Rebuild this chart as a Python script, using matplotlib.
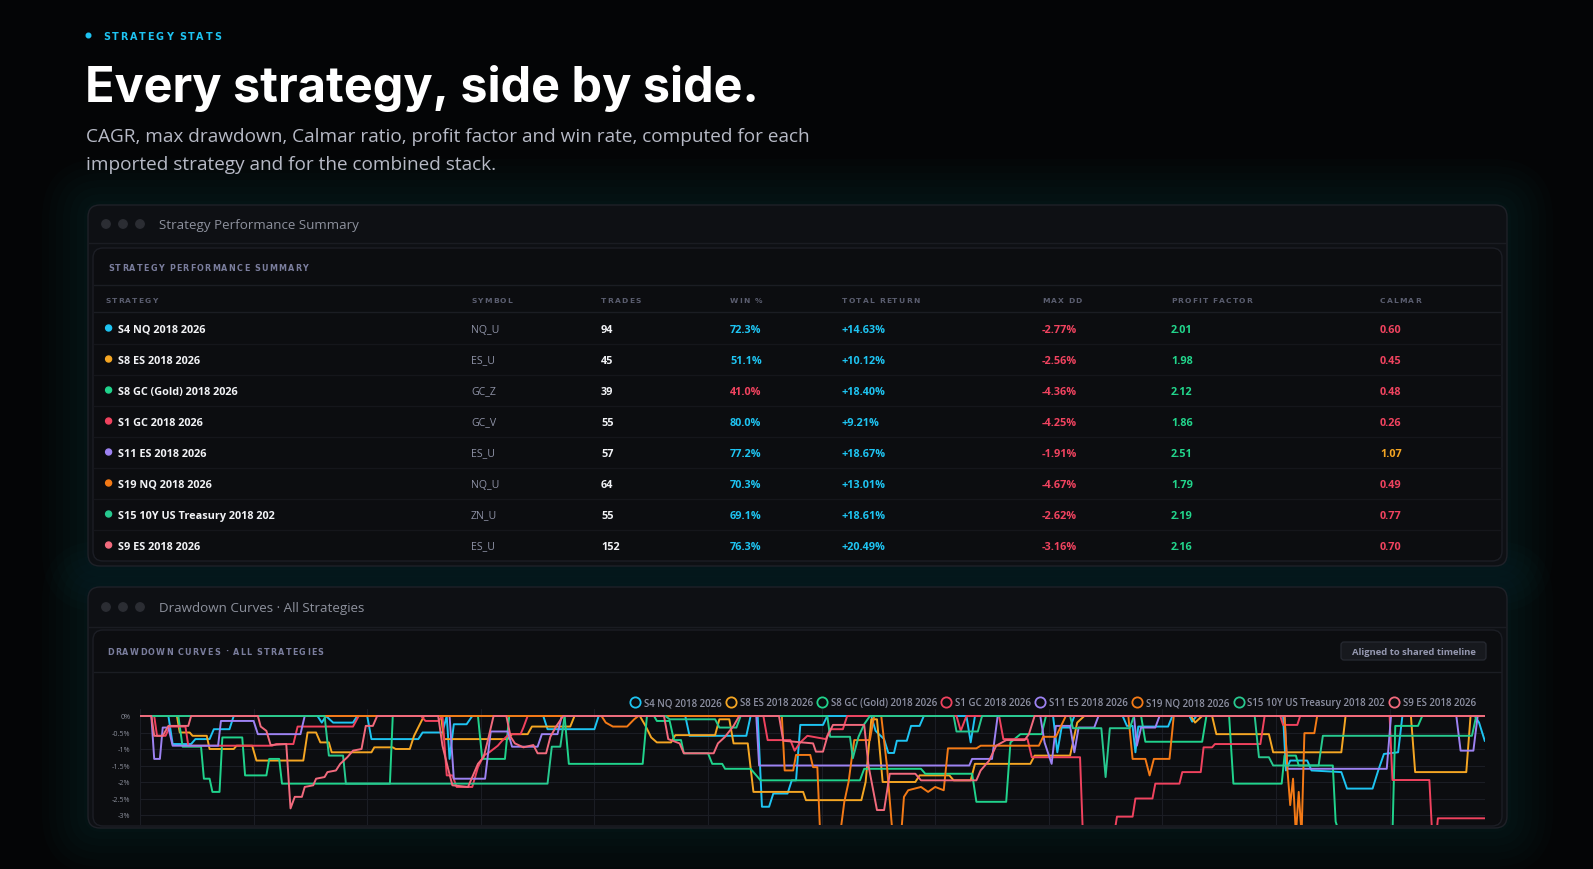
import matplotlib
matplotlib.use("Agg")
import matplotlib.pyplot as plt
from matplotlib.patches import FancyBboxPatch, Circle
from matplotlib.lines import Line2D
from matplotlib.ticker import FixedLocator, FuncFormatter

W, H = 1593, 870

# ---- table data ----
strategies = ["S4 NQ 2018 2026", "S8 ES 2018 2026", "S8 GC (Gold) 2018 2026", "S1 GC 2018 2026",
              "S11 ES 2018 2026", "S19 NQ 2018 2026", "S15 10Y US Treasury 2018 202", "S9 ES 2018 2026"]
symbols = ["NQ_U", "ES_U", "GC_Z", "GC_V", "ES_U", "NQ_U", "ZN_U", "ES_U"]
trades = [94, 45, 39, 55, 57, 64, 55, 152]
win_pct = [72.3, 51.1, 41.0, 80.0, 77.2, 70.3, 69.1, 76.3]
total_return = [14.63, 10.12, 18.40, 9.21, 18.67, 13.01, 18.61, 20.49]
max_dd = [-2.77, -2.56, -4.36, -4.25, -1.91, -4.67, -2.62, -3.16]
profit_factor = [2.01, 1.98, 2.12, 1.86, 2.51, 1.79, 2.19, 2.16]
calmar = [0.60, 0.45, 0.48, 0.26, 1.07, 0.49, 0.77, 0.70]
columns = ["STRATEGY", "SYMBOL", "TRADES", "WIN %", "TOTAL RETURN", "MAX DD", "PROFIT FACTOR", "CALMAR"]

# ---- drawdown curves: (months since Jan 2018, drawdown %) ----
dd_s4 = [(0, 0), (2.0, 0), (2.3, -0.85), (3.6, -0.85), (3.9, -0.7), (4.9, -0.7), (5.2, -0.4), (6.3, -0.4),
         (6.6, 0), (12.5, 0), (12.8, -0.2), (13.1, 0), (13.6, -0.2), (15.0, -0.2), (15.3, 0), (16.0, 0),
         (16.3, -0.7), (19.6, -0.7), (19.9, -0.5), (21.3, -0.5), (21.6, 0), (21.8, -1.3), (22.1, -0.25),
         (23.0, -0.25), (23.4, 0), (28.4, 0), (28.7, -0.4), (32.0, -0.4), (32.3, 0), (38.4, 0), (38.7, -0.6),
         (42.7, -0.6), (43.0, 0), (43.5, 0), (43.8, -2.75), (44.3, -2.75), (44.6, -2.35), (45.6, -2.35),
         (45.9, -1.95), (46.2, -1.95), (46.5, -0.27), (48.1, -0.27), (48.4, 0), (51.5, 0), (51.8, -0.45),
         (52.4, -0.7), (52.7, -1.12), (53.1, -1.12), (53.3, -0.75), (54.0, -0.75), (54.3, -0.3), (54.9, -0.3),
         (55.2, 0), (58.2, 0), (58.5, -0.8), (58.8, 0), (64.3, 0), (64.6, -1.1), (64.9, -0.35), (65.5, -0.35),
         (65.8, 0), (69.2, 0), (69.5, -0.3), (69.9, -0.3), (70.1, -1.1), (70.3, -0.32), (72.4, -0.32),
         (72.7, 0), (73.9, 0), (74.1, -0.17), (74.4, 0), (80.5, 0), (80.7, -1.65), (81.0, -1.35), (82.2, -1.35),
         (82.5, -1.65), (84.6, -1.7), (85.0, -2.2), (86.8, -2.2), (87.2, -1.65), (87.6, -1.15), (88.6, -1.1),
         (88.9, 0), (94.0, 0), (94.3, -0.2), (94.7, -0.75)]
dd_s8es = [(0, 0), (2.6, 0), (2.8, -0.5), (3.5, -0.5), (3.7, -0.6), (4.7, -0.6), (4.9, -1.0), (6.6, -1.0),
           (6.8, -0.9), (7.9, -0.9), (8.2, -1.35), (11.5, -1.35), (11.8, -0.5), (12.4, -0.5), (12.7, -0.8),
           (13.3, -0.8), (13.5, -1.1), (16.3, -1.1), (16.5, -0.95), (17.8, -0.95), (18.0, -1.0), (19.0, -1.0),
           (19.3, -0.6), (20.0, 0), (21.2, 0), (21.4, -0.7), (25.9, -0.7), (26.2, -0.55), (27.3, -0.55),
           (27.6, -0.32), (30.3, -0.32), (30.6, 0), (35.2, 0), (35.6, -0.3), (36.0, -0.65), (36.4, -0.8),
           (37.4, -0.8), (37.7, -0.58), (40.5, -0.58), (40.8, -0.1), (41.5, -0.1), (41.8, -0.83), (42.8, -0.83),
           (43.2, -2.3), (46.7, -2.3), (46.9, -2.55), (50.8, -2.55), (51.1, -2.0), (51.5, -0.1), (51.9, -0.1),
           (52.3, -2.0), (54.6, -2.0), (54.9, -1.8), (57.0, -1.8), (57.3, -1.95), (58.5, -1.95), (58.8, -1.45),
           (62.7, -1.45), (63.0, -1.2), (65.5, -1.2), (66.0, -0.2), (66.5, 0), (74.0, 0), (74.3, -0.2),
           (74.8, 0), (75.5, 0), (75.8, -0.55), (79.5, -0.55), (79.8, -1.1), (84.6, -1.1), (84.9, 0),
           (89.5, 0), (89.8, -1.7), (93.4, -1.7), (93.7, 0), (94.7, 0)]
dd_s8gc = [(0, 0), (2.7, 0), (3.0, -0.93), (4.3, -0.93), (4.5, -1.9), (4.9, -1.9), (5.1, -2.3), (5.6, -2.3),
           (5.8, -0.65), (7.2, -0.65), (7.4, -1.8), (8.9, -1.8), (9.1, -1.3), (9.8, -1.3), (10.0, -2.05),
           (17.6, -2.05), (17.8, 0), (23.8, 0), (24.1, -1.3), (25.7, -1.3), (26.0, 0), (29.9, 0), (30.2, -1.45),
           (35.4, -1.45), (35.7, 0), (36.2, 0), (36.4, -0.15), (37.3, -0.15), (37.6, -0.73), (38.1, -0.73),
           (38.3, -1.13), (40.0, -1.13), (40.3, -1.45), (41.0, -1.45), (41.2, -1.6), (43.0, -1.6), (43.7, -1.95),
           (50.7, -1.95), (51.0, -1.6), (55.0, -1.6), (55.3, -1.75), (58.6, -1.75), (58.9, -2.6), (61.0, -2.6),
           (61.3, -0.8), (62.0, -0.55), (63.5, -0.55), (63.8, 0), (70.5, 0), (70.8, -0.78), (74.8, -0.78),
           (75.1, 0), (76.7, 0), (77.0, -2.05), (80.4, -2.05), (80.6, -1.2), (81.4, -1.2), (81.6, -1.5),
           (84.0, -1.5), (84.2, -3.2), (84.5, -3.6), (88.2, -3.6), (88.4, -0.3), (90.0, -0.3), (90.3, 0),
           (94.7, 0)]
dd_s1 = [(0, 0), (1.0, 0), (1.2, -0.6), (1.8, -0.6), (2.1, -0.32), (3.2, -0.32), (3.4, -0.9), (9.3, -0.9),
         (9.6, -0.85), (10.8, -0.85), (11.1, -0.32), (15.0, -0.32), (15.4, 0), (19.8, 0), (20.1, -0.15),
         (21.0, -0.15), (21.3, 0), (21.6, -1.8), (22.0, -1.8), (22.3, -2.15), (23.4, -2.15), (23.8, -1.55),
         (24.2, -1.2), (24.6, -1.1), (25.2, -0.9), (25.5, -0.75), (26.0, -0.55), (26.8, -0.55), (27.0, -0.35),
         (27.3, 0), (43.9, 0), (44.2, -0.73), (45.8, -0.73), (46.1, -1.05), (46.5, -0.8), (47.0, -0.6),
         (48.3, -0.7), (48.6, -0.4), (49.5, -0.4), (49.8, 0), (57.5, 0), (57.8, -0.45), (58.2, 0), (60.5, 0),
         (60.8, -0.7), (62.5, -0.7), (62.8, -1.25), (66.2, -1.25), (66.4, -3.6), (68.6, -3.6), (68.8, -3.05),
         (69.9, -3.05), (70.1, -2.5), (71.3, -2.5), (71.5, -2.05), (73.2, -2.05), (73.4, -1.7), (74.7, -1.7),
         (74.9, -0.95), (75.5, -0.95), (75.7, -0.85), (78.9, -0.85), (79.2, 0), (80.3, 0), (80.5, -0.27),
         (81.5, -0.27), (81.7, 0), (88.0, 0), (88.2, -1.94), (90.8, -1.94), (91.0, -3.6), (91.3, -3.6),
         (91.4, -3.1), (94.7, -3.1)]
dd_s11 = [(0, 0), (0.8, 0), (1.0, -1.3), (1.4, -1.3), (1.6, -0.35), (2.0, -0.35), (2.3, -0.9), (5.5, -0.9),
          (5.7, -0.15), (8.0, -0.15), (8.3, -0.55), (11.3, -0.55), (11.6, 0), (21.8, 0), (22.1, -1.9),
          (24.3, -1.9), (24.7, -0.47), (25.9, -0.47), (26.2, -0.93), (28.0, -0.93), (28.3, -0.55), (29.4, -0.55),
          (29.7, 0), (43.4, 0), (43.6, -1.5), (58.4, -1.5), (58.6, -1.3), (60.0, -1.3), (60.4, 0), (63.4, 0),
          (63.7, -0.8), (64.2, -1.45), (64.5, -0.3), (65.5, -0.3), (65.8, -1.1), (66.1, -0.35), (67.2, -0.35),
          (67.5, 0), (70.0, 0), (70.2, -0.9), (70.5, -0.35), (71.5, -0.35), (71.8, 0), (80.6, 0), (80.8, -1.6),
          (87.8, -1.6), (88.1, 0), (92.7, 0), (93.0, -1.05), (93.9, -1.05), (94.2, 0), (94.7, 0)]
dd_s19 = [(0, 0), (32.5, 0), (32.8, -0.2), (33.3, -0.32), (34.3, -0.32), (34.8, -0.1), (35.1, 0), (45.2, 0),
          (45.4, -1.65), (46.0, -1.65), (46.2, -1.18), (47.2, -1.18), (47.4, -1.55), (47.7, -1.55), (47.9, -3.6),
          (49.3, -3.6), (49.6, -2.6), (49.9, -2.0), (50.1, -1.35), (50.3, -0.73), (51.4, -0.73), (51.7, 0),
          (52.2, 0), (52.6, -1.5), (53.0, -3.6), (53.6, -3.6), (53.8, -2.45), (54.1, -2.25), (55.0, -2.15),
          (55.5, -2.3), (56.0, -2.15), (56.6, -2.25), (56.9, -0.98), (58.9, -0.98), (59.2, -0.9), (63.3, -0.9),
          (63.6, -0.63), (64.5, -0.63), (65.2, 0), (69.6, 0), (69.9, -1.3), (70.8, -1.3), (71.1, -1.8),
          (71.4, -1.3), (72.5, -1.3), (72.8, 0), (80.6, 0), (80.8, -1.6), (81.0, -2.7), (81.2, -1.9),
          (81.4, -3.6), (81.6, -2.3), (81.8, -3.6), (82.0, -0.52), (82.7, -0.52), (82.9, 0), (94.7, 0)]
dd_s15 = [(0, 0), (13.0, 0), (13.3, -1.2), (14.3, -1.2), (14.5, -2.05), (28.7, -2.05), (29.0, -0.93),
          (29.6, -0.93), (29.9, 0), (37.0, 0), (37.3, -0.1), (40.5, -0.1), (40.8, -0.35), (42.0, -0.35),
          (42.3, 0), (48.4, 0), (48.6, -0.63), (50.0, -0.63), (50.2, -1.28), (50.6, -0.63), (51.0, -0.25),
          (51.4, 0), (57.3, 0), (57.5, -0.47), (59.0, -0.47), (59.3, 0), (65.5, 0), (65.7, -0.37), (67.7, -0.37),
          (68.0, -1.85), (68.3, -0.37), (69.7, -0.37), (70.0, 0), (78.5, 0), (78.8, -1.25), (79.5, -1.25),
          (79.8, -1.5), (83.0, -1.5), (83.3, -0.6), (93.8, -0.6), (94.1, 0), (94.7, 0)]
dd_s9 = [(0, 0), (0.8, 0), (1.0, -0.6), (1.6, -0.6), (2.0, -0.3), (3.4, -0.3), (3.6, 0), (8.3, 0), (8.5, -0.32),
         (8.9, -0.45), (9.2, -0.88), (10.3, -0.85), (10.6, -2.8), (10.9, -2.45), (11.4, -2.45), (11.6, -2.15),
         (12.2, -2.1), (12.4, -1.9), (13.0, -1.85), (13.2, -1.7), (13.8, -1.65), (14.1, -1.45), (14.6, -1.25),
         (15.0, -1.05), (15.6, -1.0), (15.9, -0.3), (16.4, -0.3), (16.7, 0), (21.0, 0), (21.3, -0.9),
         (21.7, -1.6), (22.0, -2.1), (23.1, -2.15), (23.4, -1.85), (23.8, -1.45), (24.2, -1.25), (24.5, -0.73),
         (24.9, 0), (25.8, 0), (26.1, -0.63), (26.4, -0.83), (27.0, -0.95), (27.7, -0.88), (28.0, -1.13),
         (28.6, -1.13), (28.9, -0.63), (29.3, -0.32), (29.8, 0), (36.9, 0), (37.2, -0.7), (38.0, -0.83),
         (38.3, -1.13), (40.4, -1.13), (40.7, -0.83), (41.2, -0.63), (41.8, -0.3), (42.2, 0), (45.0, 0),
         (45.3, -0.75), (47.4, -0.83), (47.6, -1.08), (48.1, -1.08), (48.4, -0.63), (48.8, -0.27), (51.0, -0.27),
         (51.3, -1.5), (51.9, -2.85), (52.4, -2.85), (52.8, -1.75), (54.6, -1.75), (55.0, -1.95), (58.9, -1.95),
         (59.2, -1.65), (59.8, -1.35), (60.3, -0.9), (61.0, -0.73), (62.3, -0.73), (62.6, -0.55), (63.0, 0),
         (94.7, 0)]
dd_series = [dd_s4, dd_s8es, dd_s8gc, dd_s1, dd_s11, dd_s19, dd_s15, dd_s9]
dd_ticks = [0, -0.5, -1, -1.5, -2, -2.5, -3]

colors = ["#1ec4f2", "#f5a623", "#20d38c", "#f0425e", "#9d82f2", "#f47a16", "#27c98f", "#f26a7d"]
CYAN, RED, GREEN, AMBER = "#1ec4f2", "#f0435f", "#22d68c", "#f5a623"

BG = "#040506"
PANEL = "#0e1014"
CARD = "#0c0d10"
EDGE = "#1f2128"

fig = plt.figure(figsize=(W / 100, H / 100), dpi=100, facecolor=BG)
ax = fig.add_axes([0, 0, 1, 1])
ax.set_xlim(0, W)
ax.set_ylim(H, 0)
ax.axis("off")
renderer = fig.canvas.get_renderer()


def rbox(x0, y0, x1, y1, r, fc, ec="none", lw=1.0, alpha=1.0, z=1):
    p = FancyBboxPatch((x0, y0), x1 - x0, y1 - y0, boxstyle=f"round,pad=0,rounding_size={r}",
                       fc=fc, ec=ec, lw=lw, alpha=alpha, zorder=z)
    ax.add_patch(p)


def tracked(x, y, s, track, **kw):
    # draw text letter by letter to get the wide letter spacing of the UI labels
    for ch in s:
        if ch == " ":
            x += kw.get("fontsize", 6) * 0.42 + track
            continue
        t = ax.text(x, y, ch, va="baseline", ha="left", **kw)
        bb = t.get_window_extent(renderer)
        x += bb.width + track


UI = "Open Sans"
CAPS = "DejaVu Sans"

# soft teal glow behind the panels
for k in range(7):
    g = 4 + k * 7
    rbox(88 - g, 206 - g, 1507 + g, 567 + g, 14 + g, "#0c4a52", alpha=0.035, z=0)
    rbox(88 - g, 588 - g, 1507 + g, 829 + g, 14 + g, "#0c4a52", alpha=0.035, z=0)

# ---- header ----
ax.add_patch(Circle((88.5, 36.5), 2.3, color=CYAN, zorder=3))
tracked(103, 40, "STRATEGY STATS", 1.8, fontsize=6.9, color=CYAN, family=CAPS, fontweight="bold")
ax.text(85, 102, "Every strategy, side by side.", fontsize=35, fontweight="bold", color="white",
        family="Inter", va="baseline")
ax.text(86, 141.5, "CAGR, max drawdown, Calmar ratio, profit factor and win rate, computed for each",
        fontsize=13.7, color="#b7bac6", family=UI, va="baseline")
ax.text(86, 169.5, "imported strategy and for the combined stack.",
        fontsize=13.7, color="#b7bac6", family=UI, va="baseline")


def window(y0, y1, bar_y1, card_y0, card_y1, title):
    rbox(88, y0, 1507, y1, 12, PANEL, EDGE, 1.0, z=1)
    ax.plot([89, 1506], [bar_y1, bar_y1], color="#1a1c22", lw=1.0, zorder=2)
    for cx in [106, 123, 140]:
        ax.add_patch(Circle((cx, (y0 + bar_y1) / 2), 4.2, color="#2b2d33", zorder=3))
    ax.text(159, (y0 + bar_y1) / 2 + 4.5, title, fontsize=9.6, color="#8d919d", family=UI, va="baseline")
    rbox(93, card_y0, 1502, card_y1, 10, CARD, "#1c1e25", 1.0, z=2)


# ---- performance summary panel ----
window(206, 567, 244, 249, 562, "Strategy Performance Summary")
tracked(108, 271, "STRATEGY PERFORMANCE SUMMARY", 1.25, fontsize=5.8, color="#7b7e9e",
        family=CAPS, fontweight="bold", zorder=4)
ax.plot([94, 1501], [286, 286], color="#1b1d23", lw=1.0, zorder=3)
ax.plot([94, 1501], [313, 313], color="#1b1d23", lw=1.0, zorder=3)

col_x = [105, 471, 601, 730, 842, 1042, 1171, 1380]
for cx, name in zip(col_x, columns):
    tracked(cx, 302.7, name, 1.2, fontsize=5.4, color="#5b5e70", family=CAPS, fontweight="bold", zorder=4)

row_y0, row_h = 329, 31
for i in range(len(strategies)):
    y = row_y0 + i * row_h
    if i < len(strategies) - 1:
        ax.plot([94, 1501], [y + row_h / 2, y + row_h / 2], color="#15161b", lw=0.9, zorder=3)
    yb = y + 3.6
    ax.add_patch(Circle((108.6, y), 3.0, color=colors[i], zorder=4))
    kw = dict(fontsize=7.8, family=UI, fontweight="bold", va="baseline", zorder=4)
    ax.text(118.5, yb, strategies[i], color="#f2f3f6", **kw)
    ax.text(col_x[1], yb, symbols[i], color="#8e92a6", fontsize=7.6, family=UI, va="baseline", zorder=4)
    ax.text(col_x[2], yb, f"{trades[i]}", color="#f2f3f6", **kw)
    ax.text(col_x[3], yb, f"{win_pct[i]:.1f}%", color=RED if win_pct[i] < 50 else CYAN, **kw)
    ax.text(col_x[4], yb, f"+{total_return[i]:.2f}%", color=CYAN, **kw)
    ax.text(col_x[5], yb, f"{max_dd[i]:.2f}%", color=RED, **kw)
    ax.text(col_x[6], yb, f"{profit_factor[i]:.2f}", color=GREEN, **kw)
    ax.text(col_x[7], yb, f"{calmar[i]:.2f}", color=AMBER if calmar[i] >= 1 else RED, **kw)

# ---- drawdown panel ----
window(588, 829, 628, 631, 827, "Drawdown Curves \u00b7 All Strategies")
tracked(107, 655, "DRAWDOWN CURVES \u00b7 ALL STRATEGIES", 1.25, fontsize=5.8, color="#7b7e9e",
        family=CAPS, fontweight="bold", zorder=4)
ax.plot([94, 1501], [673, 673], color="#1b1d23", lw=1.0, zorder=3)
rbox(1341, 643, 1486, 661, 3, "#17191e", "#272a32", 0.9, z=3)
ax.text(1413.5, 655, "Aligned to shared timeline", fontsize=6.8, color="#9598b0", family=UI,
        fontweight="bold", ha="center", va="baseline", zorder=4)

# chart area: 0% at y=717 px, 33 px per 1 %, 14.2 px per month from x=140
top_px, bot_px, left_px, right_px = 710, 826, 140, 1485
y_top = (717 - top_px) / 33
y_bot = -(bot_px - 717) / 33
x_max = (right_px - left_px) / 14.2
cax = fig.add_axes([left_px / W, 1 - bot_px / H, (right_px - left_px) / W, (bot_px - top_px) / H])
cax.set_facecolor("none")
cax.set_zorder(5)
for s in cax.spines.values():
    s.set_visible(False)
cax.set_xlim(0, x_max)
cax.set_ylim(y_bot, y_top)
cax.xaxis.set_major_locator(FixedLocator(list(range(0, 95, 8))))
cax.yaxis.set_major_locator(FixedLocator(dd_ticks))
cax.yaxis.set_major_formatter(FuncFormatter(lambda v, p: f"{v:g}%"))
cax.tick_params(axis="x", length=0, labelbottom=False)
cax.tick_params(axis="y", length=0, pad=7, labelsize=5.2, labelcolor="#8a8d9a")
for lab in cax.get_yticklabels():
    lab.set_family(UI)
cax.grid(True, color="#1b1d24", lw=0.8)
cax.set_axisbelow(True)

for dd, c, name in zip(dd_series, colors, strategies):
    t = [p[0] for p in dd]
    v = [p[1] for p in dd]
    cax.plot(t, v, color=c, lw=1.4, solid_joinstyle="round", label=name)

handles = [Line2D([], [], ls="none", marker="o", ms=7.4, mfc="none", mec=c, mew=1.3) for c in colors]
leg = fig.legend(handles, strategies, loc="center right", bbox_to_anchor=(1476 / W, 1 - 704 / H), ncol=8,
                 frameon=False, handletextpad=0.45, columnspacing=0.5, handlelength=0.9,
                 borderpad=0, borderaxespad=0, labelcolor="#8d90a2",
                 prop={"family": UI, "size": 7.0, "weight": "semibold"})

fig.savefig("out.png", dpi=100, facecolor=BG)
